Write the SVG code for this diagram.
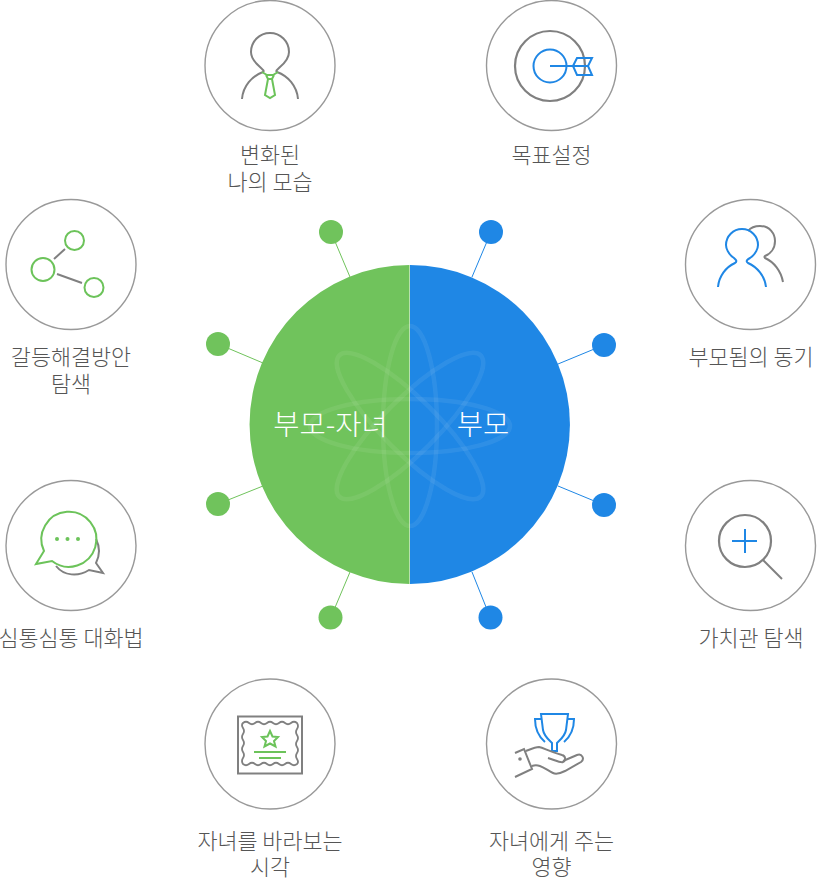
<svg xmlns="http://www.w3.org/2000/svg" width="817" height="880" viewBox="0 0 817 880">
<style>
.ring{fill:#fff;stroke:#999;stroke-width:1.4}
.g{fill:none;stroke:#808080;stroke-width:2}
.gn{fill:none;stroke:#6cc35a;stroke-width:2}
.b{fill:none;stroke:#1f87e5;stroke-width:2}
.t{font-family:"Noto Sans CJK KR","Noto Sans",sans-serif;font-size:21.8px;fill:#555;text-anchor:middle;font-weight:300}
.c{font-family:"Noto Sans CJK KR","Noto Sans",sans-serif;font-size:28.500px;fill:#fff;text-anchor:middle;font-weight:300}
.at{fill:none;stroke:#fff;stroke-opacity:.07;stroke-width:4.500}
</style>
<g id="connectors" stroke-width="1">
<g stroke="#70c35c"><line x1="331" y1="232" x2="350" y2="277"/><line x1="218" y1="344" x2="263" y2="363"/><line x1="218" y1="504" x2="263" y2="486"/><line x1="331" y1="617" x2="350" y2="572"/></g>
<g stroke="#1f87e5"><line x1="491" y1="232" x2="472" y2="277"/><line x1="604" y1="345" x2="558" y2="364"/><line x1="604" y1="505" x2="558" y2="486"/><line x1="490" y1="617" x2="472" y2="572"/></g>
<g fill="#70c35c"><circle cx="331" cy="232" r="12"/><circle cx="218" cy="344" r="12"/><circle cx="218" cy="504" r="12"/><circle cx="330.500" cy="617.500" r="12"/></g>
<g fill="#1f87e5"><circle cx="491" cy="232" r="12"/><circle cx="604" cy="345" r="12"/><circle cx="604" cy="505" r="12"/><circle cx="490.500" cy="617.500" r="12"/></g>
</g>
<g id="center">
<path d="M409.500 265A160 159.500 0 0 0 409.500 584Z" fill="#70c35c"/>
<path d="M410 265A160 159.500 0 0 1 410 584Z" fill="#1f87e5"/>
<g class="at"><ellipse cx="410" cy="426" rx="100" ry="27"/><ellipse cx="410" cy="426" rx="27" ry="100"/><ellipse cx="410" cy="426" rx="100" ry="27" transform="rotate(45 410 426)"/><ellipse cx="410" cy="426" rx="100" ry="27" transform="rotate(-45 410 426)"/></g>
<text class="c" x="330.500" y="435">부모-자녀</text>
<text class="c" x="483" y="435">부모</text>
</g>
<g id="node-self">
<circle class="ring" cx="270" cy="65.500" r="65"/>
<path class="g" d="M242 99C243 86 252 76 263 72C265 71 262 69 260 67C253 61 251 55 251 52A19 19 0 1 1 289 52C289 55 287 61 280 67C278 69 275 71 277 72C288 76 297 86 298 99"/>
<path class="gn" d="M262 72L267 75L273 75L278 72M266 75L268 79L272 79L274 75M268 79L265 95L270 98L275 95L272 79"/>
<text class="t" x="270" y="162.500">변화된</text><text class="t" x="270" y="189.500">나의 모습</text>
</g>
<g id="node-goal">
<circle class="ring" cx="551.500" cy="65.500" r="65"/>
<circle cx="550" cy="66" r="35" fill="none" stroke="#808080" stroke-width="2.200"/>
<circle class="b" cx="550" cy="66" r="16.500"/>
<path class="b" d="M550 66H573M573 66L577 58H592L588 66L592 75H577ZM573 66H588"/>
<text class="t" x="551.500" y="162.500">목표설정</text>
</g>
<g id="node-motive">
<circle class="ring" cx="750.500" cy="264.500" r="65"/>
<path class="g" d="M748 231C752 226 758 226 760 226C770 226 775 234 775 241C775 249 770 254 765 256C764 257 764 257 765 258C774 262 781 271 783 282"/>
<path class="b" d="M718 287C719 276 726 267 735 263C738 261 735 259 734 258C728 254 726 248 726 245A16 16 0 1 1 758 245C758 248 756 254 750 258C748 259 745 261 748 263C757 267 765 276 766 287"/>
<text class="t" x="751" y="364.500">부모됨의 동기</text>
</g>
<g id="node-conflict">
<circle class="ring" cx="71" cy="264.500" r="65"/>
<circle class="gn" cx="74.500" cy="240.500" r="9.500"/>
<circle class="gn" cx="43" cy="269.500" r="11.500"/>
<circle class="gn" cx="94" cy="287.500" r="9.500"/>
<path class="g" d="M54 259L65 249M57 274L82 283"/>
<text class="t" x="71" y="364.500">갈등해결방안</text><text class="t" x="71" y="391.500">탐색</text>
</g>
<g id="node-talk">
<circle class="ring" cx="71" cy="545.500" r="65"/>
<path class="g" d="M96 539C100 547 100 555 96 563L103 573L89 570C78 577 64 576 56 566"/>
<path class="gn" d="M36 564L44 551A27.500 27.500 0 1 1 52 561Z" fill="#fff"/>
<g fill="#6cc35a"><circle cx="57" cy="539" r="2"/><circle cx="67.500" cy="539" r="2"/><circle cx="78" cy="539" r="2"/></g>
<text class="t" x="71" y="645.500">심통심통 대화법</text>
</g>
<g id="node-value">
<circle class="ring" cx="750.500" cy="545.500" r="65"/>
<circle cx="745" cy="541" r="26" fill="none" stroke="#808080" stroke-width="2.200"/>
<path class="g" d="M763 560L782 579"/>
<path class="b" d="M732 541H757M745 529V553"/>
<text class="t" x="751" y="645.500">가치관 탐색</text>
</g>
<g id="node-view">
<circle class="ring" cx="270" cy="744" r="65"/>
<rect x="238" y="716.500" width="64" height="57" fill="none" stroke="#808080" stroke-width="2"/>
<path fill="none" stroke="#808080" stroke-width="1.800" d="M243 723q3-2.500 6 0t6 0t6 0t6 0t6 0t6 0t6 0t6 0t6 0q2 3 0 6t0 6t0 6t0 6t0 6t0 6t0 5q-3 2.500-6 0t-6 0t-6 0t-6 0t-6 0t-6 0t-6 0t-6 0t-6 0q-2-3 0-6t0-6t0-6t0-6t0-6t0-6t0-5Z"/>
<path class="gn" d="M270 731L272.500 736.500L278 737L274 741L275.500 746.500L270 743.500L264.500 746.500L266 741L262 737L267.500 736.500Z"/>
<path class="gn" d="M254 752H286M259 758H281"/>
<text class="t" x="270" y="848.500">자녀를 바라보는</text><text class="t" x="270" y="875">시각</text>
</g>
<g id="node-impact">
<circle class="ring" cx="551.500" cy="744" r="65"/>
<path class="b" d="M541 714H568L566 730C565 736 561 739 557 743L557 751H552L552 743C548 739 544 736 543 730ZM541 719H535C535 729 538 736 545 742M568 719H574C574 729 571 736 564 742"/>
<path class="g" d="M515 753L524 749L532 769L515 777M526 751C531 749 535 747 539 747C544 748 548 751 562 755C566 756 566 761 563 762C560 763 555 760 548 758M532 766C540 763 546 770 553 773C557 775 561 773 565 771L581 762C585 759 582 753 577 755L563 761"/>
<circle cx="520" cy="759" r="1.800" fill="#808080"/>
<text class="t" x="551.500" y="848.500">자녀에게 주는</text><text class="t" x="551.500" y="875">영향</text>
</g>
</svg>
